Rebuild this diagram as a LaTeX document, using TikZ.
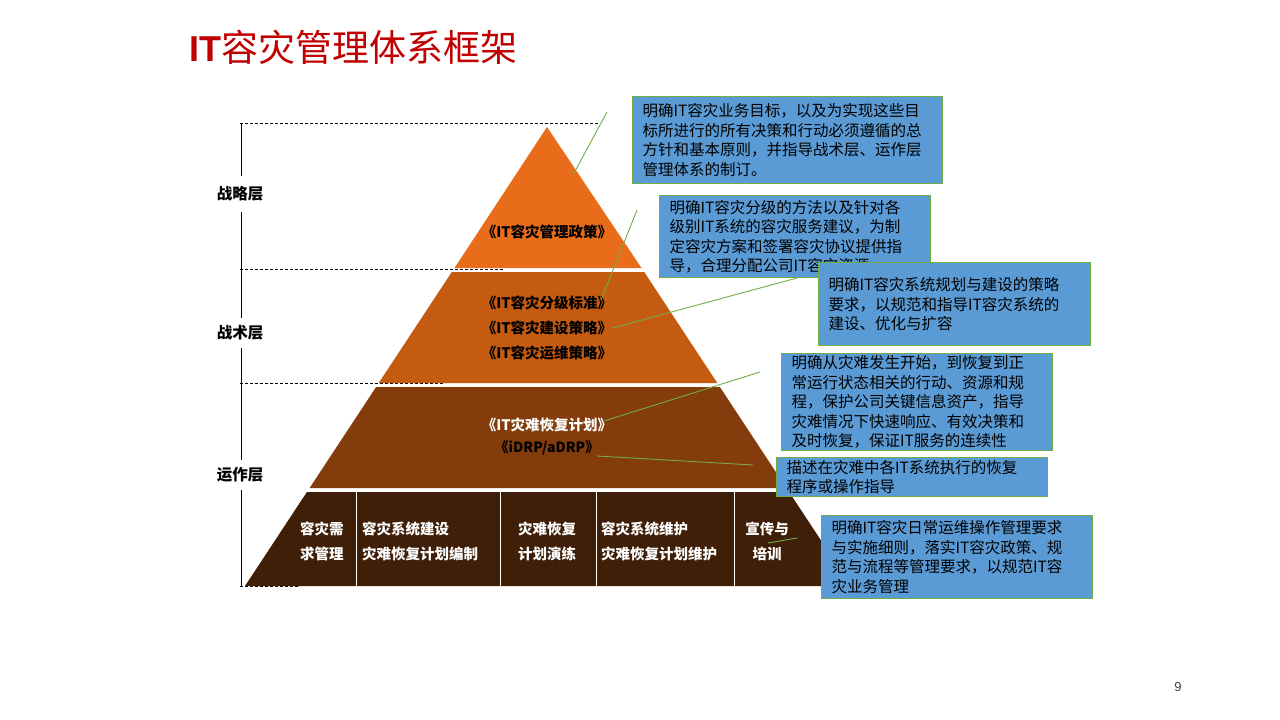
\documentclass[tikz,border=0pt]{standalone}
\usepackage{fontspec}
\setmainfont{Noto Sans CJK SC}
\newfontfamily\latinsans{Liberation Sans}
\usepackage{xcolor}
\usepackage{tikz}

\definecolor{titlered}{HTML}{C00000}
\definecolor{tierA}{HTML}{E86C1A}
\definecolor{tierB}{HTML}{C55A11}
\definecolor{tierC}{HTML}{843C0C}
\definecolor{tierD}{HTML}{401F08}
\definecolor{noteblue}{HTML}{5B9BD5}
\definecolor{notegreen}{HTML}{70AD47}

\tikzset{
  note/.style={draw=notegreen, line width=1.2pt, fill=noteblue, anchor=north west,
    align=left, inner xsep=10pt, inner ysep=2pt, font=\fontsize{15.5}{19.5}\selectfont},
  link/.style={notegreen, line width=0.9pt},
  guide/.style={black, line width=0.6pt, dash pattern=on 3pt off 2pt},
  tiertext/.style={font=\fontsize{14.5}{25}\selectfont\bfseries, inner sep=0pt},
  layer/.style={fill=white, font=\fontsize{15.5}{18}\selectfont\bfseries, inner xsep=1pt},
}

\begin{document}
\begin{tikzpicture}[x=1pt, y=-1pt]
  \useasboundingbox (0,0) rectangle (1280,720);

  % title
  \node[anchor=west, inner sep=0pt, text=titlered] (title) at (189,47)
    {{\latinsans\bfseries\fontsize{36}{42}\selectfont IT}\fontsize{37}{42}\selectfont 容灾管理体系框架};

  % layer scale on the left
  \draw[guide] (240,123) -- (600,123);
  \draw[guide] (240,269) -- (503,269);
  \draw[guide] (240,383) -- (445,383);
  \draw[guide] (240,586) -- (300,586);
  \draw[line width=0.6pt] (241,123) -- (241,586);
  \node[layer, inner ysep=11pt] (strat) at (240,194) {战略层};
  \node[layer, inner ysep=8pt] (tact) at (240,333) {战术层};
  \node[layer, inner ysep=8pt] (oper) at (240,475) {运作层};

  % pyramid
  \fill[tierA] (547,127) -- (454.5,268) -- (641.5,268) -- cycle;
  \fill[tierB] (451.8,272) -- (644.2,272) -- (717.3,383) -- (378.7,383) -- cycle;
  \fill[tierC] (376.1,387) -- (719.9,387) -- (786.4,488) -- (309.6,488) -- cycle;
  \fill[tierD] (306.9,492) -- (789.1,492) -- (851,586) -- (245,586) -- cycle;
  \foreach \cx in {356,500,596,734}
    \draw[white, line width=1pt] (\cx,492) -- (\cx,586);

  \node[tiertext] (policy) at (547,232) {《IT容灾管理政策》};
  \node[tiertext] (grade) at (547,303) {《IT容灾分级标准》};
  \node[tiertext] (build) at (547,328) {《IT容灾建设策略》};
  \node[tiertext] (ops) at (547,353) {《IT容灾运维策略》};
  \node[tiertext, text=white] (drp) at (547,425) {《IT灾难恢复计划》};
  \node[tiertext, font=\fontsize{14}{16}\selectfont\bfseries] (idrp) at (547,448) {《iDRP/aDRP》};

  \node[tiertext, text=white, anchor=west, align=left] (need) at (300,541) {容灾需\\求管理};
  \node[tiertext, text=white, anchor=west, align=left] (sysbuild) at (362,541) {容灾系统建设\\灾难恢复计划编制};
  \node[tiertext, text=white, anchor=west, align=left] (drill) at (518,541) {灾难恢复\\计划演练};
  \node[tiertext, text=white, anchor=west, align=left] (maint) at (601,541) {容灾系统维护\\灾难恢复计划维护};
  \node[tiertext, text=white, align=center] (train) at (767,541) {宣传与\\培训};

  % notes
  \node[note, text width=290pt, minimum height=87pt] (n1) at (632,96)
    {明确IT容灾业务目标，以及为实现这些目\\标所进行的所有决策和行动必须遵循的总\\方针和基本原则，并指导战术层、运作层\\管理体系的制订。};
  \node[note, text width=251pt, minimum height=82pt] (n2) at (659,195)
    {明确IT容灾分级的方法以及针对各\\级别IT系统的容灾服务建议，为制\\定容灾方案和签署容灾协议提供指\\导，合理分配公司IT容灾资源};
  \node[note, text width=252pt, minimum height=83pt] (n3) at (818,262)
    {明确IT容灾系统规划与建设的策略\\要求，以规范和指导IT容灾系统的\\建设、优化与扩容};
  \node[note, text width=251pt, minimum height=95pt] (n4) at (781,353)
    {明确从灾难发生开始，到恢复到正\\常运行状态相关的行动、资源和规\\程，保护公司关键信息资产，指导\\灾难情况下快速响应、有效决策和\\及时恢复，保证IT服务的连续性};
  \node[note, text width=251pt, minimum height=39pt] (n5) at (776,457)
    {描述在灾难中各IT系统执行的恢复\\程序或操作指导};
  \node[note, text width=251pt, minimum height=83pt] (n6) at (821,515)
    {明确IT容灾日常运维操作管理要求\\与实施细则，落实IT容灾政策、规\\范与流程等管理要求，以规范IT容\\灾业务管理};

  % leader lines
  \coordinate (k1) at (607,112);
  \coordinate (k1e) at (573,175);
  \coordinate (k2) at (637,210);
  \coordinate (k2e) at (601,300);
  \coordinate (k3) at (797,278);
  \coordinate (k4) at (760,372);
  \coordinate (k4e) at (604,421);
  \coordinate (k5) at (753,465);
  \coordinate (k5e) at (597,456);
  \coordinate (k6) at (797,538);
  \coordinate (k6e) at (768,543);
  \draw[link] (k1) -- (k1e);
  \draw[link] (k2) -- (k2e);
  \draw[link] (k3) -- (build.east);
  \draw[link] (k4) -- (k4e);
  \draw[link] (k5) -- (k5e);
  \draw[link] (k6) -- (k6e);

  \node[font=\latinsans\fontsize{13}{15}\selectfont, text=black!75] (page) at (1178,687) {9};
\end{tikzpicture}
\end{document}
